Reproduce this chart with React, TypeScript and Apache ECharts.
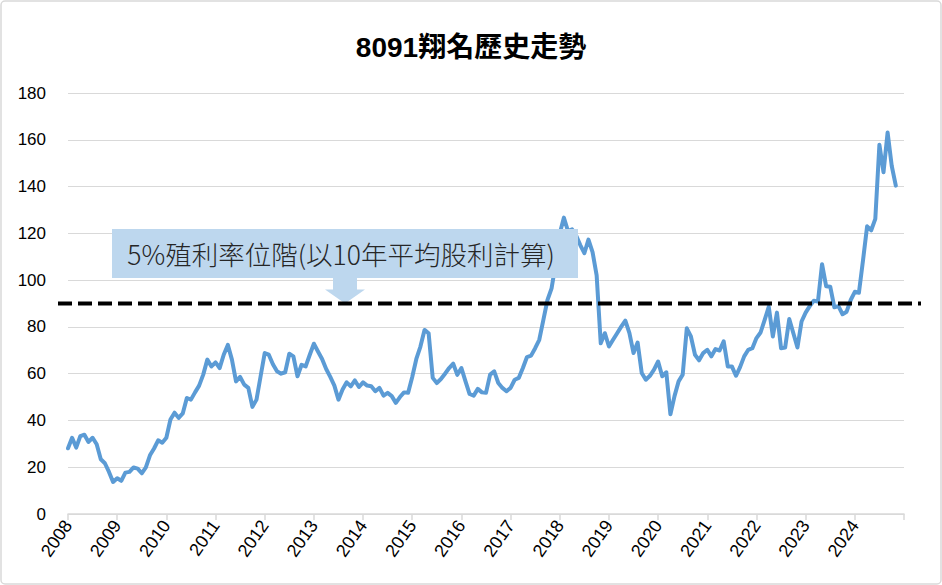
import React, { useEffect, useRef } from "react";
import * as echarts from "echarts";

const title = "8091翔名歷史走勢";
const annotationText = "5%殖利率位階(以10年平均股利計算)";
const startYear = 2008;
const endYear = 2025;
const yieldLevel = 90;
const yTicks = { min: 0, max: 180, interval: 20 };

// monthly prices from Jan 2008
const prices = [
  28.1, 32.6, 28.4, 33.3, 33.9, 30.8, 32.6, 29.8, 23.4, 21.7, 18, 13.7,
  15.3, 14.2, 17.7, 18, 19.9, 19.4, 17.4, 19.9, 25.1, 28, 31.5, 30.5,
  32.6, 40.4, 43.3, 41.1, 43, 49.6, 48.9, 52, 54.9, 59.6, 66, 63.1,
  64.8, 62.4, 68.1, 72.3, 66, 56.7, 58.6, 55.3, 53.9, 45.8, 48.9, 58.9,
  68.8, 68.1, 64,
  61, 60, 60.6, 68.5, 67.4, 58.9, 63.8, 63.1, 68.1, 72.8,
  69.5, 66.3, 62, 58.6, 54.9, 48.9, 53.2, 56.3, 54.6, 57.1,
  54.3, 56.3, 54.9, 54.6, 52.5, 53.9, 50.6, 51.8, 50.4, 47.5,
  50, 52, 51.8, 58.6, 66.3, 71.6, 78.7, 77.3, 58.2, 56,
  57.7, 60, 62.4, 64.3, 59.5, 62.4, 56.7, 51.3, 50.6, 53.5,
  52, 51.8, 59.6, 61, 56, 53.9, 52.5, 53.9, 57.4, 58.2,
  62.4, 67.1, 67.7, 70.9, 74.5, 83, 91.5, 96.5, 107, 119.9,
  126.7, 121, 121.7, 119, 115, 111.5, 117.3, 112, 102, 73,
  77.3, 71.6, 74.5, 77.3, 80.1, 82.7, 77.3, 68.8, 73.3, 60.3,
  57.4, 59.1, 61.7, 65.2, 58.9, 60.6, 42.6, 50.4, 56.7, 59.6,
  79.4, 75.9, 68.1, 65.7, 68.8, 70.2, 67.4, 70.5, 69.9, 73.8,
  63.1, 63.1, 59.1, 62.8, 67.4, 70.2, 70.9, 75.2, 77.6, 83,
  88.6, 75.9, 86.1, 70.9, 71.2, 83.4, 77.3, 71.2, 82.3, 86.1,
  88.9, 91.2, 90.8, 106.8, 97.4, 97.2, 88.4, 88.9, 85.4, 86.5,
  91.5, 95, 94.6, 108.5, 123, 121.3, 126.2, 157.9, 146.1, 163.1,
  148.9, 140.4,
];

const monthPositions = prices.map((_, i) => startYear + i / 12);

export default function App() {
  const ref = useRef<HTMLDivElement>(null);

  useEffect(() => {
    if (!ref.current) return;
    const chart = echarts.init(ref.current, undefined, { renderer: "svg" });
    const latin = "'Liberation Sans', Arial, 'Noto Sans CJK TC', sans-serif";
    chart.setOption({
      animation: false,
      backgroundColor: "#ffffff",
      title: {
        text: title,
        left: "center",
        top: 28,
        textStyle: {
          fontSize: 28,
          fontWeight: "bold",
          color: "#000",
          fontFamily: latin,
        },
      },
      grid: { left: 68, right: 38, top: 93, bottom: 71 },
      xAxis: {
        type: "value",
        min: startYear,
        max: endYear,
        interval: 1,
        axisLine: { show: true, lineStyle: { color: "#d9d9d9", width: 1.5 } },
        axisTick: { show: true, length: 6, lineStyle: { color: "#d9d9d9", width: 1.5 } },
        splitLine: { show: false },
        axisLabel: {
          rotate: 55,
          margin: 8,
          fontSize: 18,
          color: "#000",
          fontFamily: latin,
          formatter: (v: number) => (v < endYear ? String(v) : ""),
        },
      },
      yAxis: {
        type: "value",
        min: yTicks.min,
        max: yTicks.max,
        interval: yTicks.interval,
        axisLine: { show: false },
        axisTick: { show: false },
        splitLine: { lineStyle: { color: "#d9d9d9", width: 1 } },
        axisLabel: { fontSize: 17, color: "#000", margin: 22, fontFamily: latin },
      },
      series: [
        {
          type: "line",
          data: prices.map((v, i) => [monthPositions[i], v]),
          showSymbol: false,
          smooth: false,
          lineStyle: { color: "#5b9bd5", width: 4, join: "round", cap: "round" },
          z: 2,
        },
      ],
    });

    const yLine = chart.convertToPixel({ yAxisIndex: 0 }, yieldLevel) as number;
    const tipX = 345;
    const boxTop = 229;
    const boxBottom = 278;
    const boxLeft = 112;
    const boxRight = 578;
    chart.setOption({
      graphic: [
        {
          type: "rect",
          z: 1,
          silent: true,
          shape: { x: 1, y: 1, width: 940, height: 583, r: 4 },
          style: { fill: "none", stroke: "#d9d9d9", lineWidth: 1.5 },
        },
        {
          type: "polygon",
          z: 100,
          silent: true,
          shape: {
            points: [
              [boxLeft, boxTop],
              [boxRight, boxTop],
              [boxRight, boxBottom],
              [tipX + 12, boxBottom],
              [tipX + 12, yLine - 14],
              [tipX + 20, yLine - 14],
              [tipX, yLine],
              [tipX - 20, yLine - 14],
              [tipX - 12, yLine - 14],
              [tipX - 12, boxBottom],
              [boxLeft, boxBottom],
            ],
          },
          style: { fill: "#bdd7ee", stroke: "none" },
        },
        {
          type: "text",
          z: 101,
          silent: true,
          x: 341,
          y: (boxTop + boxBottom) / 2,
          style: {
            text: annotationText,
            fontSize: 26.5,
            fontWeight: 300,
            fill: "#262626",
            fontFamily: "'Noto Sans CJK TC', sans-serif",
            align: "center",
            verticalAlign: "middle",
          },
        },
        {
          type: "line",
          z: 102,
          silent: true,
          shape: { x1: 58, y1: yLine, x2: 921, y2: yLine },
          style: { stroke: "#000", lineWidth: 4, lineDash: [14, 6] },
        },
      ],
    });

    return () => chart.dispose();
  }, []);

  return (
    <div
      ref={ref}
      style={{ position: "fixed", left: 0, top: 0, width: 942, height: 585 }}
    />
  );
}
